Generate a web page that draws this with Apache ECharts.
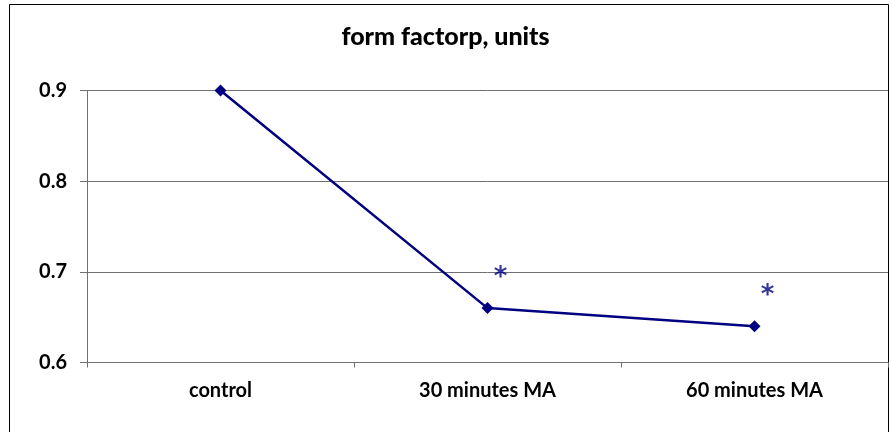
<!DOCTYPE html>
<html><head><meta charset="utf-8">
<script src="https://cdn.jsdelivr.net/npm/echarts@6/dist/echarts.min.js"></script>
<style>html,body{margin:0;padding:0;background:#fff}#c{width:891px;height:432px}</style>
</head><body><div id="c"></div>
<script>
const categories = ['control', '30 minutes MA', '60 minutes MA'];
const formFactor = [0.9, 0.66, 0.64];
const starLevels = [null, 0.70, 0.68];
const yTicks = [0.6, 0.7, 0.8, 0.9];

const chart = echarts.init(document.getElementById('c'));
const font = 'Lato, "Open Sans", sans-serif';
chart.setOption({
  animation: false,
  backgroundColor: '#fff',
  title: {
    text: 'form factorp, units', left: 'center', top: 19,
    textStyle: {fontFamily: font, fontWeight: 900, fontSize: 25, color: '#000'}
  },
  graphic: [{type: 'rect', shape: {x: 9.5, y: 4.5, width: 879, height: 440}, style: {fill: 'none', stroke: '#000', lineWidth: 1}, silent: true}],
  grid: {left: 87, right: 3, top: 90.5, bottom: 69.5},
  xAxis: {
    type: 'category', data: categories, boundaryGap: true,
    axisLine: {lineStyle: {color: '#707070', width: 1}},
    axisTick: {show: true, length: 5, lineStyle: {color: '#707070'}},
    axisLabel: {margin: 18, fontFamily: font, fontWeight: 'bold', fontSize: 20, color: '#000'}
  },
  yAxis: {
    type: 'value', min: yTicks[0], max: yTicks[yTicks.length - 1], interval: 0.1,
    axisLine: {show: true, lineStyle: {color: '#707070'}},
    axisTick: {show: true, length: 7, lineStyle: {color: '#707070'}},
    splitLine: {lineStyle: {color: '#707070', width: 1}},
    axisLabel: {margin: 20, fontFamily: font, fontWeight: 'bold', fontSize: 20, color: '#000',
      formatter: v => v.toFixed(1)}
  },
  series: [{
    type: 'line', data: formFactor, symbol: 'diamond', symbolSize: 12,
    lineStyle: {color: '#000080', width: 2.5}, itemStyle: {color: '#000080'}
  }, {
    type: 'scatter', data: starLevels, symbolSize: 1, itemStyle: {color: 'rgba(0,0,0,0)'},
    label: {show: true, formatter: '*', position: 'inside', offset: [13, 6],
      fontFamily: '"DejaVu Sans", sans-serif', fontWeight: 'bold', fontSize: 26, color: '#000080'}
  }]
});
</script></body></html>
